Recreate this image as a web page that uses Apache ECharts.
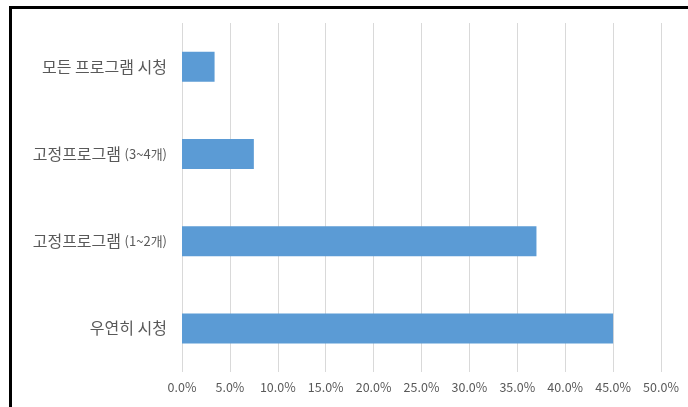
<!DOCTYPE html>
<html>
<head>
<meta charset="utf-8">
<script src="https://cdn.jsdelivr.net/npm/echarts@6/dist/echarts.min.js"></script>
<style>html,body{margin:0;padding:0;background:#fff;}#c{width:688px;height:407px;}</style>
</head>
<body>
<div id="c"></div>
<script>
const categories = ['우연히 시청', '고정프로그램 (1~2개)', '고정프로그램 (3~4개)', '모든 프로그램 시청'];
const values = [45.0, 37.0, 7.5, 3.4];
const tickLabels = ['0.0%', '5.0%', '10.0%', '15.0%', '20.0%', '25.0%', '30.0%', '35.0%', '40.0%', '45.0%', '50.0%'];

const chart = echarts.init(document.getElementById('c'));
const FONT = '"Noto Sans CJK KR", "Noto Sans", sans-serif';
chart.setOption({
  animation: false,
  backgroundColor: '#ffffff',
  graphic: [
    { type: 'line', shape: { x1: 9, y1: 7.5, x2: 688, y2: 7.5 }, style: { stroke: '#000', lineWidth: 3 }, silent: true },
    { type: 'line', shape: { x1: 10.5, y1: 6, x2: 10.5, y2: 407 }, style: { stroke: '#000', lineWidth: 3 }, silent: true }
  ],
  grid: { left: 182, right: 27, top: 23, bottom: 35, containLabel: false },
  xAxis: {
    type: 'value',
    min: 0, max: 50, interval: 5,
    axisLine: { show: false },
    axisTick: { show: false },
    splitLine: { show: true, lineStyle: { color: '#d9d9d9', width: 1 } },
    axisLabel: {
      color: '#595959', fontFamily: FONT, fontSize: 12.5, margin: 9,
      formatter: (v) => tickLabels[Math.round(v / 5)]
    }
  },
  yAxis: {
    type: 'category',
    data: categories,
    axisLine: { show: false },
    axisTick: { show: false },
    axisLabel: {
      color: '#595959', fontFamily: FONT, fontSize: 16, margin: 15,
      formatter: (v) => {
        const i = v.indexOf(' (');
        if (i >= 0) return '{a|' + v.slice(0, i) + '} {b|' + v.slice(i + 1) + '}';
        return '{a|' + v + '}';
      },
      rich: {
        a: { color: '#595959', fontFamily: FONT, fontSize: 16 },
        b: { color: '#595959', fontFamily: FONT, fontSize: 13 }
      }
    }
  },
  series: [{
    type: 'bar',
    data: values,
    barWidth: 30,
    itemStyle: { color: '#5b9bd5' }
  }]
});
</script>
</body>
</html>
